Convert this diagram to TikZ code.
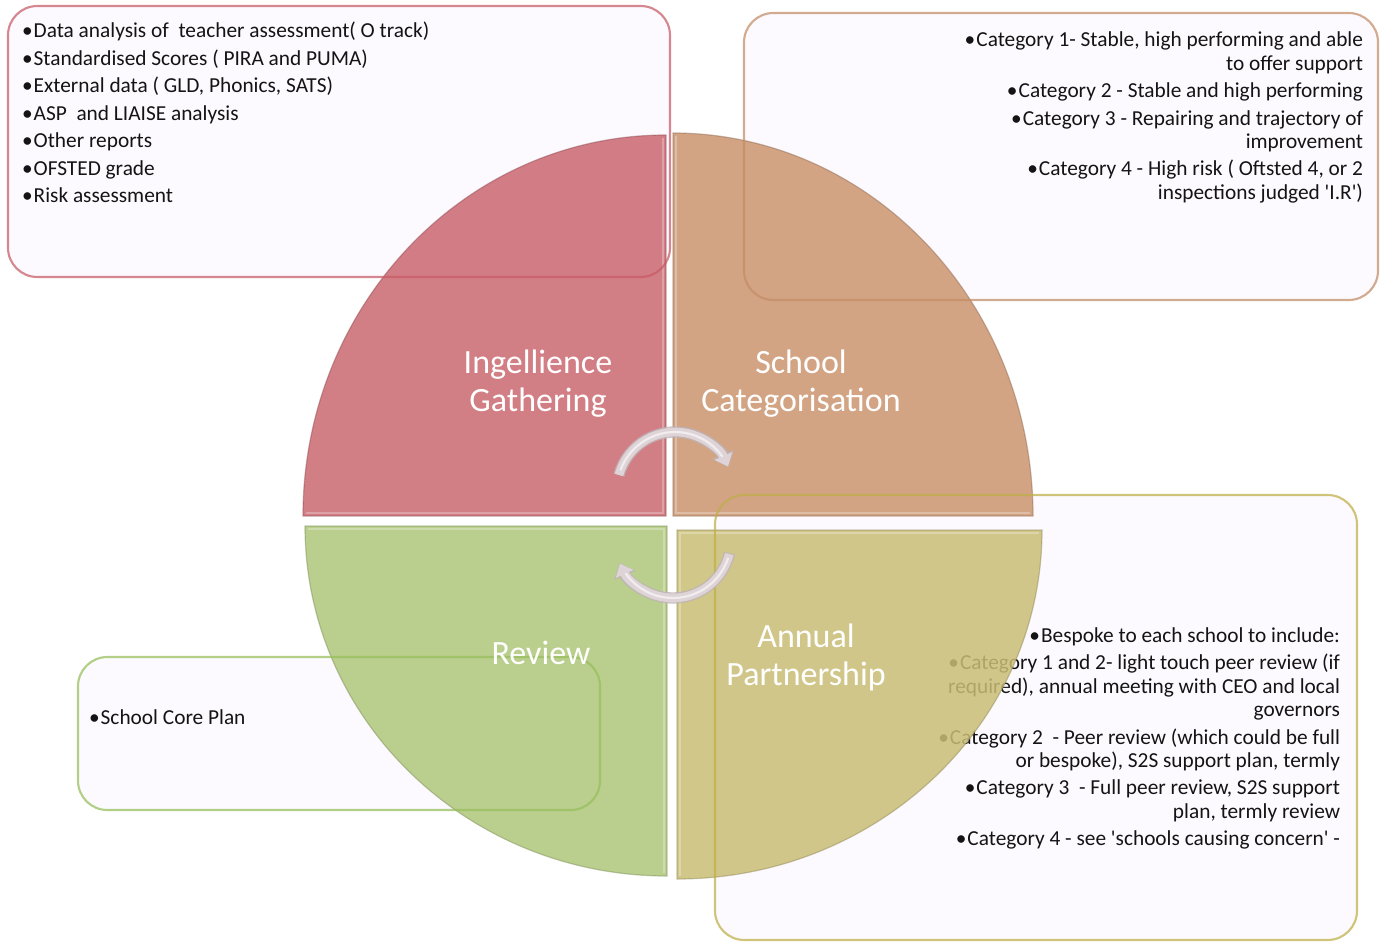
\documentclass[tikz,border=0pt]{standalone}
\usepackage{fontspec}
\setmainfont{Carlito}
\usetikzlibrary{arrows.meta}
\definecolor{qred}{RGB}{203,104,112}
\definecolor{qorange}{RGB}{203,149,111}
\definecolor{qgreen}{RGB}{175,199,122}
\definecolor{qyellow}{RGB}{202,190,117}
\definecolor{lred}{RGB}{200,90,100}
\definecolor{lorange}{RGB}{195,140,100}
\definecolor{lgreen}{RGB}{150,190,90}
\definecolor{lyellow}{RGB}{190,175,70}
\definecolor{boxbg}{RGB}{252,250,255}
\definecolor{arrowc}{RGB}{222,212,215}
\definecolor{arrowe}{RGB}{190,180,184}
\definecolor{txt}{RGB}{20,20,20}
\newcommand{\bul}{•\kern0.8pt}
\begin{document}
\begin{tikzpicture}[x=0.75pt,y=-0.75pt,
  every node/.style={inner sep=0pt, outer sep=0pt},
  body/.style={font=\fontsize{16}{19}\selectfont, text=txt},
  bl/.style={body, anchor=base west},
  br/.style={body, anchor=base east},
  qlabel/.style={font=\fontsize{25.5}{28.5}\selectfont, text=white, align=center},
  boxfill/.style={fill=boxbg, rounded corners=22pt},
  boxline/.style={rounded corners=22pt, line width=1.6pt, draw opacity=0.72},
  quad/.style={fill opacity=0.85, draw opacity=0.45, line width=0.9pt},
  bevel/.style={draw=white, draw opacity=0.28, line width=2.2pt},
  cycedge/.style={line width=8.5pt, draw=arrowe, draw opacity=0.8, -{Triangle[width=17pt,length=10.5pt]}},
  cyc/.style={line width=6.5pt, draw=arrowc, -{Triangle[width=14pt,length=8.5pt]}},
  cychi/.style={line width=1.6pt, draw=white, draw opacity=0.6},
]
\useasboundingbox (0,0) rectangle (1383,942);
\fill[white] (0,0) rectangle (1383,942);

% text boxes (fill)
\fill[boxfill] (8,6) rectangle (670,277);
\fill[boxfill] (744,13) rectangle (1378,300);
\fill[boxfill] (78,657) rectangle (600,810);
\fill[boxfill] (715,495) rectangle (1357,940);

% top-left text
\node[bl] (a1) at (22,38)  {\bul Data analysis of~ teacher assessment( O track)};
\node[bl] (a2) at (22,65)  {\bul Standardised Scores ( PIRA and PUMA)};
\node[bl] (a3) at (22,92)  {\bul External data ( GLD, Phonics, SATS)};
\node[bl] (a4) at (22,120) {\bul ASP~ and LIAISE analysis};
\node[bl] (a5) at (22,147) {\bul Other reports};
\node[bl] (a6) at (22,175) {\bul OFSTED grade};
\node[bl] (a7) at (22,202) {\bul Risk assessment};

% top-right text
\node[br] (t1) at (1363,46)  {\bul Category 1- Stable, high performing and able};
\node[br] (t2) at (1363,70)  {to offer support};
\node[br] (t3) at (1363,97)  {\bul Category 2 - Stable and high performing};
\node[br] (t4) at (1363,125) {\bul Category 3 - Repairing and trajectory of};
\node[br] (t5) at (1363,148) {improvement};
\node[br] (t6) at (1363,175) {\bul Category 4 - High risk ( Oftsted 4, or 2};
\node[br] (t7) at (1363,199) {inspections judged \textquotesingle I.R\textquotesingle)};

% bottom-left text
\node[bl] (c1) at (89,724) {\bul School Core Plan};

% bottom-right text
\node[br] (b1) at (1340,642) {\bul Bespoke to each school to include:};
\node[br] (b2) at (1340,669) {\bul Category 1 and 2- light touch peer review (if};
\node[br] (b3) at (1340,693) {required), annual meeting with CEO and local};
\node[br] (b4) at (1340,716) {governors};
\node[br] (b5) at (1340,744) {\bul Category 2~ - Peer review (which could be full};
\node[br] (b6) at (1340,767) {or bespoke), S2S support plan, termly};
\node[br] (b7) at (1340,794) {\bul Category 3~ - Full peer review, S2S support};
\node[br] (b8) at (1340,818) {plan, termly review};
\node[br] (b9) at (1340,845) {\bul Category 4 - see \textquotesingle schools causing concern\textquotesingle{} -};

% quadrants
\filldraw[quad, fill=qred, draw=qred!70!black]
  (666,516) -- (303,516) arc[start angle=180, end angle=270, x radius=363, y radius=381] -- cycle;
\filldraw[quad, fill=qorange, draw=qorange!70!black]
  (673,516) -- (673,133) arc[start angle=270, end angle=360, x radius=360, y radius=383] -- cycle;
\filldraw[quad, fill=qgreen, draw=qgreen!70!black]
  (667,526) -- (305,526) arc[start angle=180, end angle=90, x radius=362, y radius=350] -- cycle;
\filldraw[quad, fill=qyellow, draw=qyellow!70!black]
  (677,530) -- (1042,530) arc[start angle=0, end angle=90, x radius=365, y radius=349] -- cycle;

% bevel highlights along the straight edges
\draw[bevel] (306,513) -- (663,513) -- (663,138);
\draw[bevel] (1030,513) -- (676,513) -- (676,136);
\draw[bevel] (308,529) -- (664,529) -- (664,873);
\draw[bevel] (1039,533) -- (680,533) -- (680,876);

% box borders (on top)
\draw[boxline, draw=lred] (8,6) rectangle (670,277);
\draw[boxline, draw=lorange] (744,13) rectangle (1378,300);
\draw[boxline, draw=lgreen] (78,657) rectangle (600,810);
\draw[boxline, draw=lyellow] (715,495) rectangle (1357,940);

% cycle arrows
\draw[cycedge] ([shift={(195:58)}]675,490) arc[start angle=195, end angle=337, radius=58];
\draw[cyc] ([shift={(195:58)}]675,490) arc[start angle=195, end angle=336, radius=58];
\draw[cychi] ([shift={(200:58)}]675,490) arc[start angle=200, end angle=325, radius=58];
\draw[cycedge] ([shift={(13:58)}]673,540) arc[start angle=13, end angle=157, radius=58];
\draw[cyc] ([shift={(14:58)}]673,540) arc[start angle=14, end angle=156, radius=58];
\draw[cychi] ([shift={(18:58)}]673,540) arc[start angle=18, end angle=145, radius=58];

% quadrant labels
\node[qlabel] (q1) at (538,384) {Ingellience\\Gathering};
\node[qlabel] (q2) at (801,384) {School\\Categorisation};
\node[qlabel] (q3) at (541,653) {Review};
\node[qlabel] (q4) at (806,657) {Annual\\Partnership};
\end{tikzpicture}
\end{document}
